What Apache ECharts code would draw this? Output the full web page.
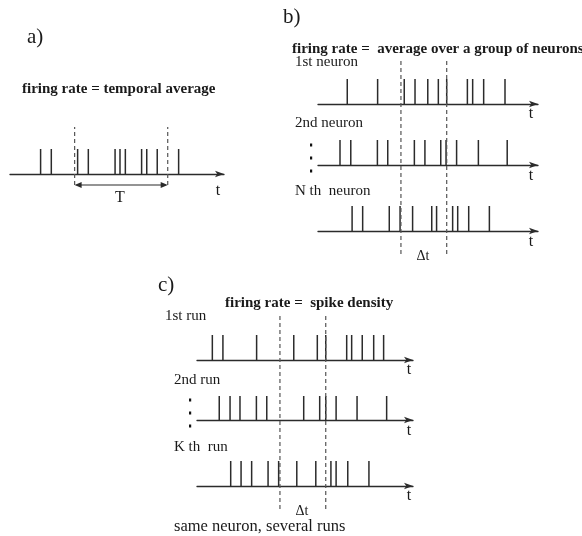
<!DOCTYPE html>
<html><head><meta charset="utf-8">
<script src="https://cdn.jsdelivr.net/npm/echarts@6/dist/echarts.min.js"></script>
<style>html,body{margin:0;padding:0;background:#fff}#c{width:582px;height:536px}</style>
</head><body><div id="c"></div>
<script>
// ---- data (spike times, axis units 0..100) ----
const spikesA  = [14.3, 19.3, 31.6, 36.6, 49.1, 51.4, 53.9, 61.5, 63.9, 68.8, 78.8];
const windowA  = [30.2, 73.7];

const spikesB1 = [13.3, 27.1, 39.2, 44.1, 49.9, 54.7, 58.5, 67.9, 70.3, 75.3, 85.0];
const spikesB2 = [10.0, 14.9, 27.0, 31.7, 43.8, 48.6, 55.8, 58.2, 63.0, 72.9, 86.0];
const spikesBN = [15.5, 20.3, 32.4, 37.3, 43.0, 51.7, 53.9, 61.2, 63.5, 68.5, 77.9];
const windowB  = [37.7, 58.5];

const spikesC1 = [7.1, 12.0, 27.6, 44.8, 55.7, 59.6, 69.3, 71.6, 76.5, 81.8, 86.4];
const spikesC2 = [10.3, 15.3, 19.9, 27.5, 32.3, 49.4, 56.8, 59.6, 64.4, 74.1, 87.8];
const spikesCK = [15.6, 20.4, 25.3, 32.9, 37.8, 46.2, 55.0, 62.0, 64.4, 69.8, 79.6];
const windowC  = [38.4, 59.6];

const titles = ['firing rate = temporal average', 'firing rate =  average over a group of neurons', 'firing rate =  spike density'];
const panelLabels = ['a)', 'b)', 'c)'];
const rowLabels = ['1st neuron', '2nd neuron', 'N th  neuron', '1st run', '2nd run', 'K th  run'];

// ---- layout ----
const SERIF = '"Liberation Serif", "DejaVu Serif", serif';
const INK = '#2b2b2b';

const rows = [
  {spikes: spikesA,  left: 10,  width: 214, top: 149, h: 25, t: [218, 191]},
  {spikes: spikesB1, left: 318, width: 220, top: 79,  h: 25, t: [531, 114]},
  {spikes: spikesB2, left: 318, width: 220, top: 140, h: 25, t: [531, 176]},
  {spikes: spikesBN, left: 318, width: 220, top: 206, h: 25, t: [531, 242]},
  {spikes: spikesC1, left: 197, width: 216, top: 335, h: 25, t: [409, 370]},
  {spikes: spikesC2, left: 197, width: 216, top: 396, h: 24, t: [409, 431]},
  {spikes: spikesCK, left: 197, width: 216, top: 461, h: 25, t: [409, 496]}
];
const wins = [
  {win: windowA, left: 10,  width: 214, top: 127, h: 58, arrow: true},
  {win: windowB, left: 318, width: 220, top: 61,  h: 193},
  {win: windowC, left: 197, width: 216, top: 315, h: 194}
];

const grid = [], xAxis = [], yAxis = [], series = [];
rows.forEach((r, i) => {
  grid.push({left: r.left, top: r.top, width: r.width, height: r.h});
  xAxis.push({type: 'value', gridIndex: i, min: 0, max: 100,
    axisLine: {show: true, onZero: false, symbol: ['none', 'arrow'], symbolSize: [5, 9],
      lineStyle: {color: INK, width: 1.3}},
    axisTick: {show: false}, axisLabel: {show: false}, splitLine: {show: false}});
  yAxis.push({type: 'value', gridIndex: i, min: 0, max: 1, show: false});
  series.push({type: 'custom', xAxisIndex: i, yAxisIndex: i, clip: false,
    data: r.spikes.map(t => [t, 1]), encode: {x: 0, y: 1},
    renderItem: (p, api) => {
      const a = api.coord([api.value(0), 0]);
      const b = api.coord([api.value(0), 1]);
      return {type: 'line', shape: {x1: a[0], y1: a[1], x2: b[0], y2: b[1]},
        style: {stroke: INK, lineWidth: 1.5}};
    }});
});
wins.forEach((w, j) => {
  const i = rows.length + j;
  grid.push({left: w.left, top: w.top, width: w.width, height: w.h});
  xAxis.push({type: 'value', gridIndex: i, min: 0, max: 100, show: false});
  yAxis.push({type: 'value', gridIndex: i, min: 0, max: 1, show: false});
  series.push({type: 'custom', xAxisIndex: i, yAxisIndex: i, clip: false,
    data: w.win.map(t => [t, 1]), encode: {x: 0, y: 1},
    renderItem: (p, api) => {
      const a = api.coord([api.value(0), 0]);
      const b = api.coord([api.value(0), 1]);
      return {type: 'line', shape: {x1: a[0], y1: a[1], x2: b[0], y2: b[1]},
        style: {stroke: '#555', lineWidth: 1.2, lineDash: [4, 3]}};
    }});
  if (w.arrow) {
    series.push({type: 'custom', xAxisIndex: i, yAxisIndex: i, clip: false,
      data: [[w.win[0], w.win[1]]], encode: {x: [0, 1]},
      renderItem: (p, api) => {
        const a = api.coord([api.value(0), 0]);
        const b = api.coord([api.value(1), 0]);
        const y = a[1];
        return {type: 'group', children: [
          {type: 'line', shape: {x1: a[0] + 2, y1: y, x2: b[0] - 2, y2: y}, style: {stroke: INK, lineWidth: 1.2}},
          {type: 'polygon', shape: {points: [[a[0], y], [a[0] + 7, y - 3], [a[0] + 7, y + 3]]}, style: {fill: INK}},
          {type: 'polygon', shape: {points: [[b[0], y], [b[0] - 7, y - 3], [b[0] - 7, y + 3]]}, style: {fill: INK}}
        ]};
      }});
  }
});

function txt(x, y, text, size, opts) {
  opts = opts || {};
  return {type: 'text', x: x, y: y, silent: true,
    style: {text: text, font: (opts.bold ? 'bold ' : '') + size + 'px ' + SERIF,
      fill: opts.fill || '#1a1a1a', align: opts.align || 'left', verticalAlign: 'middle'}};
}
function dot(x, y) {
  return {type: 'rect', shape: {x: x - 1, y: y - 1.5, width: 2.2, height: 3}, style: {fill: '#111'}, silent: true};
}

const graphic = [
  txt(27, 37, panelLabels[0], 21),
  txt(283, 17, panelLabels[1], 21),
  txt(158, 285, panelLabels[2], 21),
  txt(22, 89, titles[0], 15, {bold: true}),
  txt(292, 49, titles[1], 15, {bold: true}),
  txt(225, 303, titles[2], 15, {bold: true}),
  txt(295, 62, rowLabels[0], 15),
  txt(295, 123, rowLabels[1], 15),
  txt(295, 191, rowLabels[2], 15),
  txt(165, 316, rowLabels[3], 15),
  txt(174, 380, rowLabels[4], 15),
  txt(174, 447, rowLabels[5], 15),
  txt(120, 198, 'T', 16, {align: 'center'}),
  txt(423, 256, 'Δt', 14, {align: 'center'}),
  txt(302, 511, 'Δt', 14, {align: 'center'}),
  txt(174, 527, 'same neuron, several runs', 16.5),
  dot(311, 145), dot(311, 158), dot(311, 171),
  dot(190, 400), dot(190, 413), dot(190, 426)
];
rows.forEach(r => graphic.push(txt(r.t[0], r.t[1], 't', 16, {align: 'center'})));

const chart = echarts.init(document.getElementById('c'), null, {renderer: 'canvas'});
chart.setOption({animation: false, backgroundColor: '#fff', grid, xAxis, yAxis, series, graphic});
</script>
</body></html>
